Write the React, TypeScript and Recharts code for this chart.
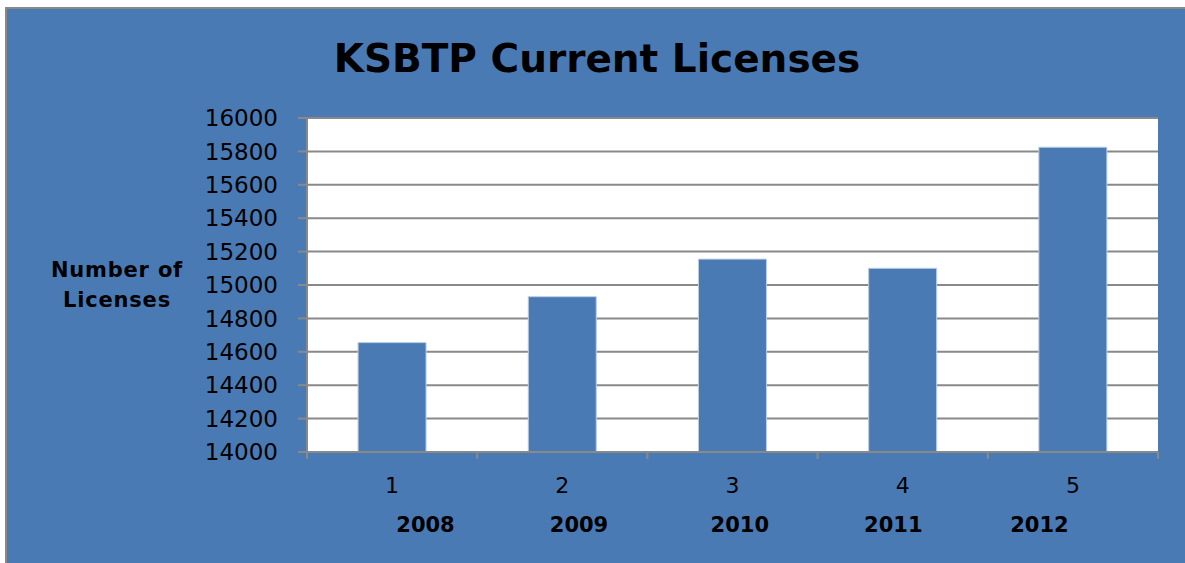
import { BarChart, Bar, XAxis, YAxis, CartesianGrid } from 'recharts'

const categories = ['1', '2', '3', '4', '5']
const licenses = [14655, 14930, 15155, 15100, 15825]
const yTicks = [14000, 14200, 14400, 14600, 14800, 15000, 15200, 15400, 15600, 15800, 16000]
const years = ['2008', '2009', '2010', '2011', '2012']

const title = 'KSBTP Current Licenses'
const yTitle = ['Number of', 'Licenses']

// the year row in the original is one axis title, spaced out by hand
const yearSpacing = [13, 14, 13, 12]
const yearTitle = years.map((y, i) => y + (i < yearSpacing.length ? ' '.repeat(yearSpacing[i]) : '')).join('')

const data = categories.map((c, i) => ({ cat: c, value: licenses[i] }))

const BLUE = '#4a7ab4'
const GRAY = '#898989'
const FONT = '"DejaVu Sans", Verdana, sans-serif'

function XTick(props: any) {
  const { x, y, payload, index, visibleTicksCount } = props
  const half = payload?.offset ?? 0
  return (
    <g>
      <line x1={x - half} x2={x - half} y1={y} y2={y + 7} stroke={GRAY} strokeWidth={2} />
      {index === visibleTicksCount - 1 && (
        <line x1={x + half} x2={x + half} y1={y} y2={y + 7} stroke={GRAY} strokeWidth={2} />
      )}
      <text x={x} y={y + 41} textAnchor="middle" fontFamily={FONT} fontSize={22} fill="#000">
        {payload.value}
      </text>
    </g>
  )
}

function YearLabel({ viewBox }: any) {
  const { x, y, width } = viewBox
  return (
    <text
      x={x + width / 2}
      y={y + 80}
      textAnchor="middle"
      fontFamily={FONT}
      fontWeight="bold"
      fontSize={21}
      fill="#000"
      style={{ whiteSpace: 'pre' }}
      xmlSpace="preserve"
    >
      {yearTitle}
    </text>
  )
}

export default function App() {
  return (
    <div style={{ position: 'absolute', left: 0, top: 0, width: 1185, height: 563, background: '#fff' }}>
      {/* chart frame */}
      <div
        style={{
          position: 'absolute', left: 5, top: 7, width: 1180, height: 556,
          boxSizing: 'border-box', borderLeft: `2px solid ${GRAY}`, borderTop: `2px solid ${GRAY}`,
          background: BLUE,
        }}
      />
      <svg width={1185} height={563} style={{ position: 'absolute', left: 0, top: 0 }}>
        <text x={597} y={72} textAnchor="middle" fontFamily={FONT} fontWeight="bold" fontSize={39} fill="#000">
          {title}
        </text>
        {yTitle.map((t, i) => (
          <text key={t} x={117} y={277 + i * 30} textAnchor="middle" fontFamily={FONT} fontWeight="bold"
            fontSize={21} letterSpacing={0.8} fill="#000">
            {t}
          </text>
        ))}
      </svg>
      <div style={{ position: 'absolute', left: 0, top: 0 }}>
        <BarChart width={1185} height={563} data={data} barCategoryGap="30%"
          margin={{ top: 118, right: 27, bottom: 0, left: 0 }}>
          <CartesianGrid vertical={false} stroke={GRAY} strokeWidth={2} fill="#fff" fillOpacity={1} />
          <XAxis
            dataKey="cat"
            height={111}
            tickLine={false}
            tickSize={0}
            tickMargin={0}
            axisLine={{ stroke: GRAY, strokeWidth: 2 }}
            tick={<XTick />}
            interval={0}
            label={<YearLabel />}
          />
          <YAxis
            width={307}
            domain={[14000, 16000]}
            ticks={yTicks}
            interval={0}
            tickSize={9}
            tickMargin={20}
            tickLine={{ stroke: GRAY, strokeWidth: 2 }}
            axisLine={{ stroke: GRAY, strokeWidth: 2 }}
            tick={{ fill: '#000', fontSize: 23, fontFamily: FONT }}
          />
          <Bar dataKey="value" fill={BLUE} stroke="#bccde3" strokeWidth={1} isAnimationActive={false} />
        </BarChart>
      </div>
    </div>
  )
}
